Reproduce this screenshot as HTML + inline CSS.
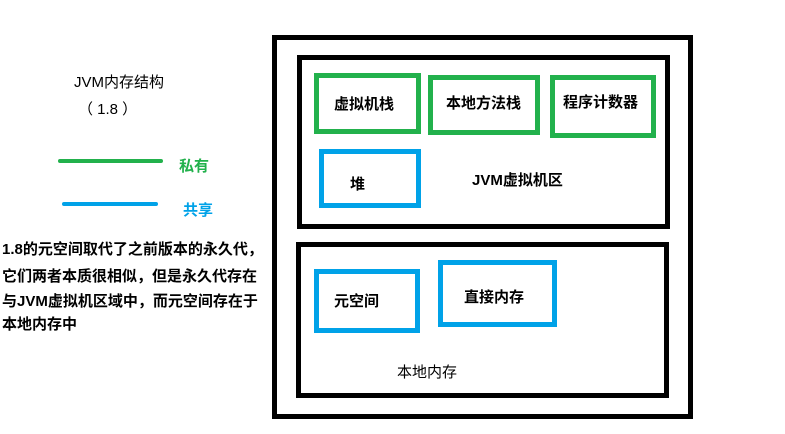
<!DOCTYPE html>
<html><head><meta charset="utf-8"><style>
body{margin:0;width:785px;height:434px;background:#fff;position:relative;overflow:hidden;font-family:"Liberation Sans","Noto Sans CJK SC",sans-serif;}
.b{position:absolute;box-sizing:border-box;}
.t{position:absolute;font-size:15px;font-weight:bold;color:#000;white-space:nowrap;line-height:1;}
.k{border:5px solid #000}.g{border:5px solid #22b14c}.c{border:5px solid #00a2e8}
</style></head><body>
<div class="b k" style="left:272px;top:35px;width:421px;height:384px"></div>
<div class="b k" style="left:297px;top:55px;width:373px;height:174px"></div>
<div class="b k" style="left:296px;top:242px;width:373px;height:156px"></div>
<div class="b g" style="left:314px;top:73px;width:107px;height:61px"></div>
<div class="b g" style="left:428px;top:75px;width:112px;height:60px"></div>
<div class="b g" style="left:550px;top:75px;width:106px;height:63px"></div>
<div class="b c" style="left:319px;top:149px;width:102px;height:59px"></div>
<div class="b c" style="left:314px;top:269px;width:106px;height:64px"></div>
<div class="b c" style="left:438px;top:260px;width:119px;height:67px"></div>
<div class="t" style="left:334px;top:97px">虚拟机栈</div>
<div class="t" style="left:446px;top:96px">本地方法栈</div>
<div class="t" style="left:563px;top:95px">程序计数器</div>
<div class="t" style="left:350px;top:177px">堆</div>
<div class="t" style="left:472px;top:173px">JVM虚拟机区</div>
<div class="t" style="left:334px;top:294px">元空间</div>
<div class="t" style="left:464px;top:290px">直接内存</div>
<div class="t" style="left:397px;top:365px;font-weight:normal">本地内存</div>
<div class="t" style="left:74px;top:75px;font-weight:normal">JVM内存结构</div>
<div class="t" style="left:78px;top:102px;font-weight:normal">（ 1.8 ）</div>
<div class="b" style="left:58px;top:159px;width:105px;height:4px;background:#22b14c;border-radius:2px"></div>
<div class="t" style="left:179px;top:159px;color:#22b14c">私有</div>
<div class="b" style="left:62px;top:202px;width:96px;height:4px;background:#00a2e8;border-radius:2px"></div>
<div class="t" style="left:183px;top:203px;color:#00a2e8">共享</div>
<div class="t" style="left:2px;top:242px">1.8的元空间取代了之前版本的永久代，</div>
<div class="t" style="left:2px;top:269px">它们两者本质很相似，但是永久代存在</div>
<div class="t" style="left:2px;top:294px">与JVM虚拟机区域中，而元空间存在于</div>
<div class="t" style="left:2px;top:317px">本地内存中</div>
</body></html>
